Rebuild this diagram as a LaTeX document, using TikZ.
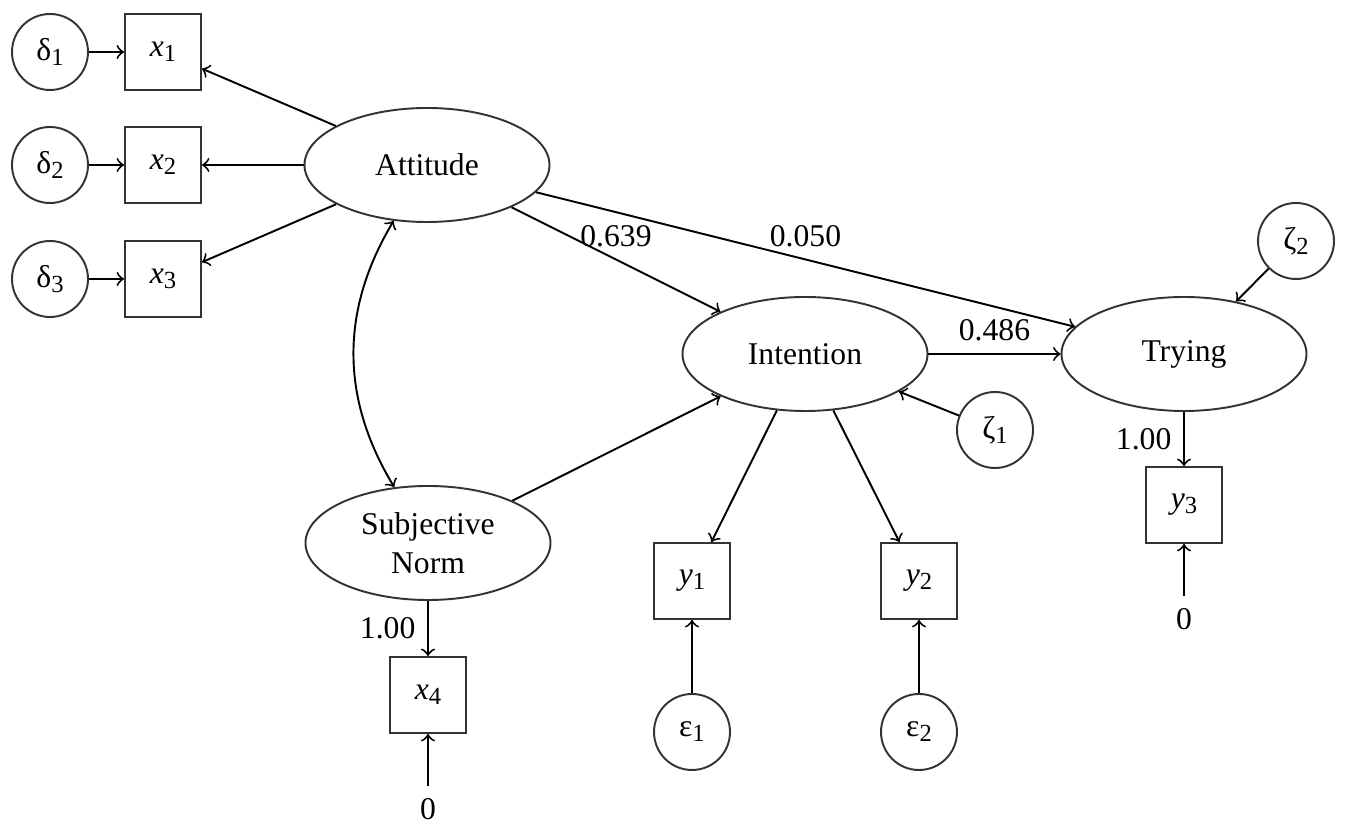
\documentclass[tikz,border=0pt]{standalone}
\usepackage{fontspec}
\setmainfont{Liberation Serif}
\usepackage{tikz}
\usetikzlibrary{arrows}
\usetikzlibrary{shapes.geometric}
\newcommand{\idx}[1]{\raisebox{-0.35ex}{\fontsize{7}{8}\selectfont #1}}

\begin{document}
\begin{tikzpicture}
	[every node/.style={font=\fontsize{9}{11}\selectfont},
	line width=0.55pt,
	latent/.style={ellipse,draw=black!80,minimum width=2.45cm,minimum height=1.14cm,inner sep=0pt,align=center},
	manifest/.style={rectangle,draw=black!80,minimum size=0.76cm,inner sep=0pt},
	resid/.style={circle,draw=black!80,minimum size=0.76cm,inner sep=0pt},
	path/.style={->,black}]
	\useasboundingbox (0,0) rectangle (13.45,8.23);
	% latent variables
	\node[latent] (att) at (4.27,6.58) {Attitude};
	\node[latent] (sn) at (4.28,2.80) {Subjective\\Norm};
	\node[latent] (int) at (8.05,4.69) {Intention};
	\node[latent] (try) at (11.84,4.69) {Trying};
	% indicators
	\node[manifest] (x1) at (1.63,7.71) {\textit{x}\idx{1}};
	\node[manifest] (x2) at (1.63,6.58) {\textit{x}\idx{2}};
	\node[manifest] (x3) at (1.63,5.44) {\textit{x}\idx{3}};
	\node[manifest] (x4) at (4.28,1.28) {\textit{x}\idx{4}};
	\node[manifest] (y1) at (6.92,2.42) {\textit{y}\idx{1}};
	\node[manifest] (y2) at (9.19,2.42) {\textit{y}\idx{2}};
	\node[manifest] (y3) at (11.84,3.18) {\textit{y}\idx{3}};
	% errors
	\node[resid] (d1) at (0.50,7.71) {δ\idx{1}};
	\node[resid] (d2) at (0.50,6.58) {δ\idx{2}};
	\node[resid] (d3) at (0.50,5.44) {δ\idx{3}};
	\node[resid] (e1) at (6.92,0.91) {ε\idx{1}};
	\node[resid] (e2) at (9.19,0.91) {ε\idx{2}};
	\node[resid] (z1) at (9.95,3.93) {ζ\idx{1}};
	\node[resid] (z2) at (12.96,5.82) {ζ\idx{2}};
	\node (cx4) at (4.28,0.14) {0};
	\node (cy3) at (11.84,2.04) {0};
	
	\foreach \from/\to in
	{d1/x1, d2/x2, d3/x3, att/x1, att/x2, att/x3, sn/int, z1/int, z2/try,
	int/y1, int/y2, e1/y1, e2/y2, cx4/x4, cy3/y3}
	\draw[path] (\from) -- (\to);
	
	\draw[path] (att) -- node[above] (b1) {0.639} (int);
	\draw[path] (att) -- node[above] (b2) {0.050} (try);
	\draw[path] (int) -- node[above] (b3) {0.486} (try);
	\draw[path] (sn) -- node[left] (l1) {1.00} (x4);
	\draw[path] (try) -- node[left] (l2) {1.00} (y3);
	\draw[<->] (att) to[bend right=31] (sn);
\end{tikzpicture}
\end{document}
